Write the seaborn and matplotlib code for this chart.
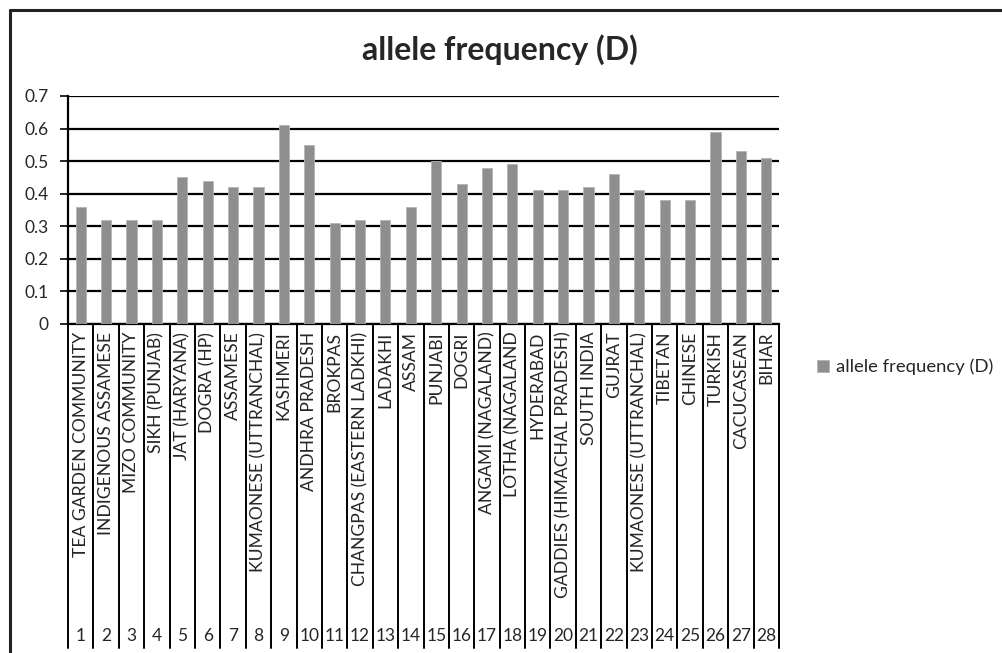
import matplotlib
matplotlib.use("Agg")
import matplotlib.pyplot as plt
import matplotlib.transforms as mtransforms
from matplotlib.lines import Line2D
import pandas as pd
import seaborn as sns

# Populations, their index numbers and D-allele frequencies
populations = [
    "TEA GARDEN COMMUNITY", "INDIGENOUS ASSAMESE", "MIZO COMMUNITY", "SIKH (PUNJAB)",
    "JAT (HARYANA)", "DOGRA (HP)", "ASSAMESE", "KUMAONESE (UTTRANCHAL)", "KASHMERI",
    "ANDHRA PRADESH", "BROKPAS", "CHANGPAS (EASTERN LADKHI)", "LADAKHI", "ASSAM",
    "PUNJABI", "DOGRI", "ANGAMI (NAGALAND)", "LOTHA (NAGALAND", "HYDERABAD",
    "GADDIES (HIMACHAL PRADESH)", "SOUTH INDIA", "GUJRAT", "KUMAONESE (UTTRANCHAL)",
    "TIBETAN", "CHINESE", "TURKISH", "CACUCASEAN", "BIHAR",
]
index_numbers = [str(i) for i in range(1, 29)]
frequency_d = [
    0.36, 0.32, 0.32, 0.32, 0.45, 0.44, 0.42, 0.42, 0.61, 0.55,
    0.31, 0.32, 0.32, 0.36, 0.50, 0.43, 0.48, 0.49, 0.41, 0.41,
    0.42, 0.46, 0.41, 0.38, 0.38, 0.59, 0.53, 0.51,
]
series_name = "allele frequency (D)"
y_ticks = [0, 0.1, 0.2, 0.3, 0.4, 0.5, 0.6, 0.7]

df = pd.DataFrame({"idx": index_numbers, "value": frequency_d})

sns.set_style("white")
plt.rcParams["font.family"] = ["Lato", "DejaVu Sans"]

W, H = 1002, 653
fig = plt.figure(figsize=(W / 100, H / 100), dpi=100)
ax_left, ax_right, ax_top, ax_bottom = 68, 779, 96, 324
ax = fig.add_axes([ax_left / W, 1 - ax_bottom / H,
                   (ax_right - ax_left) / W, (ax_bottom - ax_top) / H])

sns.barplot(data=df, x="idx", y="value", order=index_numbers, color="#8e8e8e",
            width=0.4, edgecolor="#b5b5b5", linewidth=0.6, saturation=1,
            label=series_name, ax=ax, zorder=3)

ax.set_ylim(0, 0.7)
ax.set_xlim(-0.5, len(index_numbers) - 0.5)
ax.set_yticks(y_ticks)
ax.set_yticklabels([("%g" % t) for t in y_ticks], fontsize=12.5)
ax.yaxis.grid(True, color="black", linewidth=1.6, zorder=1)
ax.set_axisbelow(True)
ax.tick_params(axis="y", length=6, width=1.2, color="black", pad=8, left=True)
ax.tick_params(axis="x", length=0, pad=5.5)
ax.set_xticks(range(len(populations)))
ax.set_xticklabels(populations, rotation=90, fontsize=12.6, va="top", ha="center")
ax.set_xlabel("")
ax.set_ylabel("")

for side in ("top", "right"):
    ax.spines[side].set_visible(False)
for side in ("left", "bottom"):
    ax.spines[side].set_color("black")
    ax.spines[side].set_linewidth(1.6)

# Category table below the axis: separators and index numbers
trans = mtransforms.blended_transform_factory(ax.transData, ax.transAxes)
table_bottom = -(648 - ax_bottom) / (ax_bottom - ax_top)
for b in range(len(index_numbers) + 1):
    ax.plot([b - 0.5, b - 0.5], [0, table_bottom], color="black", lw=1.4,
            transform=trans, clip_on=False, zorder=4)
num_y = -(636 - ax_bottom) / (ax_bottom - ax_top)
for i, n in enumerate(index_numbers):
    ax.text(i, num_y, n, transform=trans, ha="center", va="center", fontsize=12.5)

fig.text(500 / W, 1 - 50 / H, series_name, fontsize=23, fontweight="bold",
         ha="center", va="center")

leg = ax.legend(loc="center left", bbox_to_anchor=(810 / W, 1 - 367 / H),
                bbox_transform=fig.transFigure, frameon=False, fontsize=13.3,
                handlelength=0.65, handleheight=0.65, handletextpad=0.35,
                borderaxespad=0)

# Outer chart frame (top and left edges)
fig.add_artist(Line2D([10 / W, 1], [1 - 10 / H, 1 - 10 / H], color="#222222", lw=2.2,
                      transform=fig.transFigure))
fig.add_artist(Line2D([10 / W, 10 / W], [0, 1 - 10 / H], color="#222222", lw=2.2,
                      transform=fig.transFigure))

fig.savefig("out.png", dpi=100)
